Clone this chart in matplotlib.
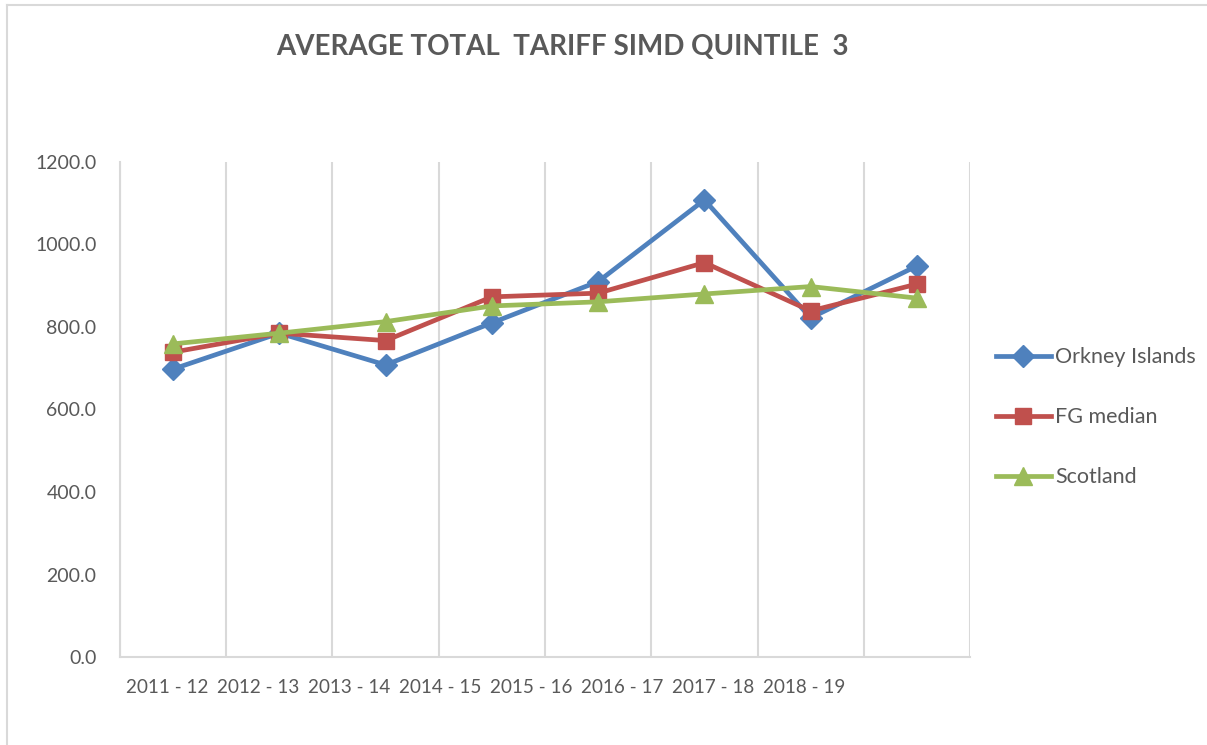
import matplotlib
matplotlib.use("Agg")
import matplotlib.pyplot as plt
from matplotlib.lines import Line2D

years = ["2011 - 12", "2012 - 13", "2013 - 14", "2014 - 15",
         "2015 - 16", "2016 - 17", "2017 - 18", "2018 - 19"]
orkney = [698, 785, 708, 810, 910, 1108, 822, 948]
fg_median = [739, 785, 767, 873, 882, 956, 839, 904]
scotland = [759, 785, 813, 851, 861, 880, 898, 870]

GREY = "#595959"
GRID = "#D9D9D9"
plt.rcParams["font.family"] = ["Lato", "DejaVu Sans"]


def main():
    fig = plt.figure(figsize=(12.07, 7.45), dpi=100)
    ax = fig.add_axes([0.0994, 0.1181, 0.7043, 0.6645])

    x = list(range(len(years)))
    ax.plot(x, orkney, color="#4F81BD", lw=3.4, marker="D", ms=11,
            label="Orkney Islands")
    ax.plot(x, fg_median, color="#C0504D", lw=3.4, marker="s", ms=12,
            label="FG median")
    ax.plot(x, scotland, color="#9BBB59", lw=3.4, marker="^", ms=13,
            label="Scotland")

    ax.set_xlim(-0.5, len(years) - 0.5)
    ax.set_ylim(0, 1200)
    ax.set_yticks(range(0, 1201, 200))
    ax.set_yticklabels([f"{v:.1f}" for v in range(0, 1201, 200)])

    # vertical gridlines on category boundaries
    ax.set_xticks([i - 0.5 for i in range(len(years) + 1)], minor=True)
    ax.grid(True, which="minor", axis="x", color=GRID, lw=1.5)
    ax.tick_params(which="minor", length=0)

    # Excel squeezed the labels, they do not line up with the points
    ax.set_xticks([-0.058 + 0.856 * i for i in range(len(years))])
    ax.set_xticklabels(years)
    ax.tick_params(axis="x", which="major", length=0, pad=16,
                   labelsize=13.6, colors=GREY)
    ax.tick_params(axis="y", length=0, pad=17, labelsize=14, colors=GREY)

    for s in ["top", "right"]:
        ax.spines[s].set_visible(False)
    ax.spines["left"].set_color(GRID)
    ax.spines["left"].set_linewidth(1.5)
    ax.spines["bottom"].set_color(GRID)
    ax.spines["bottom"].set_linewidth(1.5)

    fig.text(0.466, 0.937, "AVERAGE TOTAL  TARIFF SIMD QUINTILE  3",
             ha="center", va="center", fontsize=20, fontweight="bold",
             color=GREY)

    leg = fig.legend(loc="center left", bbox_to_anchor=(0.809, 0.44),
                     frameon=False, fontsize=15.5, handlelength=2.55,
                     handletextpad=0.2, labelspacing=1.86)
    for t in leg.get_texts():
        t.set_color(GREY)

    # chart border
    fig.add_artist(Line2D([7 / 1207, 7 / 1207], [0, 1 - 5 / 745],
                          transform=fig.transFigure, color=GRID, lw=1.5))
    fig.add_artist(Line2D([7 / 1207, 1], [1 - 5 / 745, 1 - 5 / 745],
                          transform=fig.transFigure, color=GRID, lw=1.5))

    fig.savefig("out.png", dpi=100)


if __name__ == "__main__":
    main()
